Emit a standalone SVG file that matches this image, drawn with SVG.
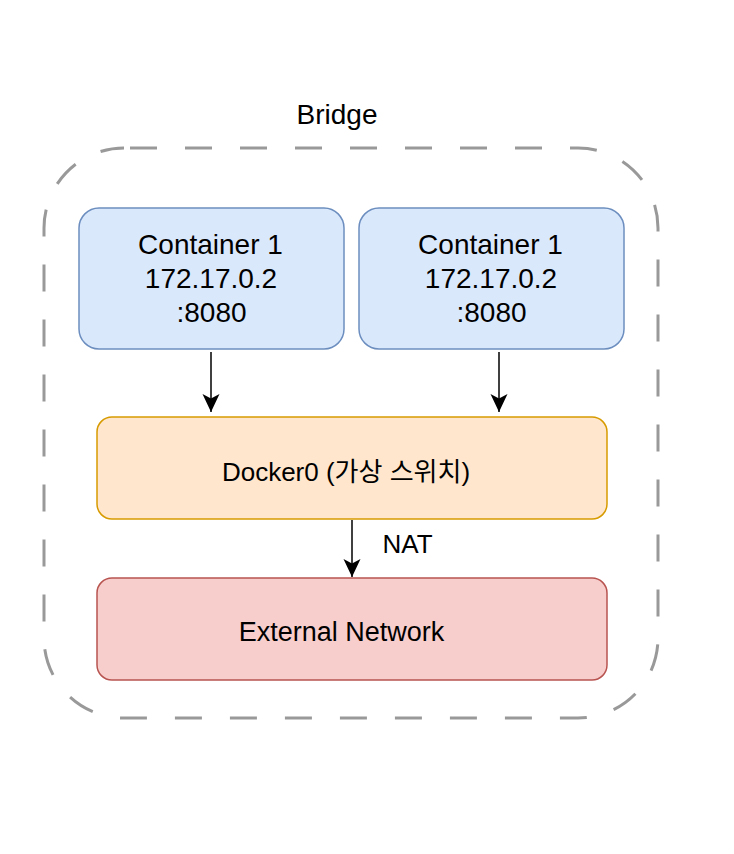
<svg xmlns="http://www.w3.org/2000/svg" width="734" height="854" viewBox="0 0 734 854">
<defs>
<style>
.t{font-family:"Liberation Sans","Noto Sans CJK KR",Arial,sans-serif;fill:#000;text-anchor:middle}
.c{fill:#dae8fc;stroke:#6c8ebf;stroke-width:1.5}
.d{fill:#ffe6cc;stroke:#d79b00;stroke-width:1.5}
.e{fill:#f8cecc;stroke:#b85450;stroke-width:1.5}
.ln{fill:none;stroke:#000;stroke-width:1.5}
</style>
<marker id="ah" markerUnits="userSpaceOnUse" markerWidth="20" markerHeight="20" refX="18" refY="9" orient="auto" viewBox="0 0 20 18">
<path d="M18,9 L0,0.5 L4.5,9 L0,17.5 Z" fill="#000"/>
</marker>
</defs>
<rect width="734" height="854" fill="#fff"/>
<g id="bridge">
<rect x="44" y="148" width="614" height="570" rx="80" ry="80" fill="none" stroke="#999" stroke-width="3" stroke-dasharray="27 28" stroke-dashoffset="49"/>
<text class="t" x="337" y="124" font-size="28">Bridge</text>
</g>
<g id="container1">
<rect class="c" x="79" y="208" width="265" height="141" rx="20" ry="20"/>
<text class="t" x="210.5" y="254" font-size="28">Container 1</text>
<text class="t" x="211" y="288" font-size="28">172.17.0.2</text>
<text class="t" x="211.5" y="322" font-size="28">:8080</text>
</g>
<g id="container2">
<rect class="c" x="359" y="208" width="265" height="141" rx="20" ry="20"/>
<text class="t" x="490.5" y="254" font-size="28">Container 1</text>
<text class="t" x="491" y="288" font-size="28">172.17.0.2</text>
<text class="t" x="491.5" y="322" font-size="28">:8080</text>
</g>
<g id="docker0">
<rect class="d" x="97" y="417" width="510" height="102" rx="15" ry="15"/>
<text class="t" x="346" y="481" font-size="26">Docker0 (가상 스위치)</text>
</g>
<g id="external">
<rect class="e" x="97" y="578" width="510" height="102" rx="15" ry="15"/>
<text class="t" x="341.5" y="641" font-size="27">External Network</text>
</g>
<g id="connectors">
<path class="ln" d="M211,352 L211,412" marker-end="url(#ah)"/>
<path class="ln" d="M499,352 L499,412" marker-end="url(#ah)"/>
<path class="ln" d="M352,520 L352,577" marker-end="url(#ah)"/>
<text class="t" x="407.5" y="553" font-size="26">NAT</text>
</g>
</svg>
